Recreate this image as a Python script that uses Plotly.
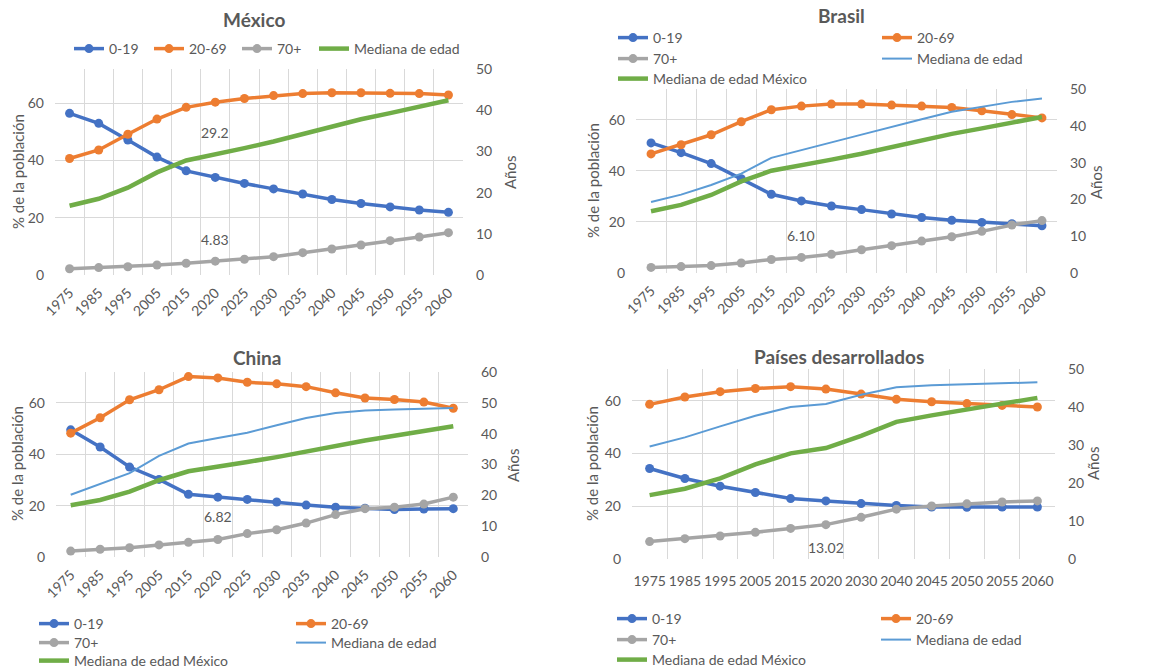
import plotly.graph_objects as go

W, H = 1151, 668

# ---------------- data ----------------
years = ["1975", "1985", "1995", "2005", "2015", "2020", "2025", "2030",
         "2035", "2040", "2045", "2050", "2055", "2060"]
years_dev = ["1975", "1985", "1995", "2005", "2015", "2020", "2030",
             "2040", "2045", "2050", "2055", "2060"]

mex_0_19 = [56.5, 53.0, 47.2, 41.2, 36.4, 34.1, 32.0, 30.1, 28.3, 26.4, 25.0, 23.8, 22.7, 21.9]
mex_20_69 = [40.7, 43.7, 49.2, 54.5, 58.6, 60.4, 61.7, 62.7, 63.4, 63.7, 63.7, 63.5, 63.4, 62.9]
mex_70 = [2.2, 2.6, 2.9, 3.5, 4.1, 4.83, 5.5, 6.4, 7.8, 9.1, 10.5, 12.0, 13.3, 14.8]
mex_median = [16.8, 18.5, 21.2, 24.9, 27.8, 29.2, 30.8, 32.4, 34.2, 36.1, 37.8, 39.3, 40.9, 42.4]

bra_0_19 = [50.9, 47.1, 42.8, 36.9, 30.8, 28.2, 26.2, 24.8, 23.1, 21.7, 20.6, 19.8, 19.3, 18.5]
bra_20_69 = [46.6, 50.2, 54.1, 59.2, 63.9, 65.3, 66.1, 66.1, 65.7, 65.3, 64.8, 63.5, 62.0, 60.7]
bra_70 = [2.2, 2.5, 2.9, 3.9, 5.3, 6.10, 7.3, 9.1, 10.7, 12.5, 14.2, 16.3, 18.8, 20.5]
bra_median = [19.3, 21.3, 23.9, 27.0, 31.3, 33.3, 35.5, 37.6, 39.8, 41.8, 43.8, 45.1, 46.5, 47.4]

chn_0_19 = [49.5, 42.8, 35.0, 30.2, 24.4, 23.3, 22.4, 21.4, 20.2, 19.4, 19.0, 18.5, 18.7, 18.8]
chn_20_69 = [48.2, 54.2, 61.2, 65.1, 70.2, 69.7, 68.0, 67.4, 66.3, 63.9, 61.9, 61.3, 60.3, 57.9]
chn_70 = [2.3, 3.0, 3.6, 4.7, 5.7, 6.82, 9.1, 10.6, 13.2, 16.5, 18.8, 19.4, 20.6, 23.3]
chn_median = [20.2, 23.6, 27.2, 32.8, 36.8, 38.6, 40.3, 42.7, 45.1, 46.7, 47.5, 47.8, 48.1, 48.3]

dev_0_19 = [34.3, 30.5, 27.6, 25.2, 22.9, 22.0, 21.0, 20.3, 19.7, 19.6, 19.7, 19.7]
dev_20_69 = [58.6, 61.4, 63.4, 64.6, 65.3, 64.4, 62.5, 60.5, 59.6, 58.9, 58.2, 57.6]
dev_70 = [6.6, 7.7, 8.7, 10.1, 11.6, 13.02, 15.8, 18.9, 20.1, 20.9, 21.6, 22.0]
dev_median = [29.6, 32.0, 34.9, 37.7, 40.0, 40.8, 43.2, 45.2, 45.7, 46.0, 46.3, 46.5]
dev_mex_median = [16.8, 18.5, 21.2, 24.9, 27.8, 29.2, 32.4, 36.1, 37.8, 39.3, 40.9, 42.4]

label_year = "2020"

# ---------------- style ----------------
FONT = "Lato"
TXT = "#595959"
GRID = "#D9D9D9"
C_BLUE = "#4472C4"
C_ORANGE = "#ED7D31"
C_GRAY = "#A5A5A5"
C_GREEN = "#70AD47"
C_LBLUE = "#5B9BD5"


def px_x(p):
    return p / W


def px_y(p):
    return 1 - p / H


fig = go.Figure()

# legend entry slots: (symbol start px, row centre px)
panels = [
    dict(title="México", x=years, s019=mex_0_19, s2069=mex_20_69, s70=mex_70,
         med=None, mexmed=mex_median, mexname="Mediana de edad",
         dom=(55, 463, 69, 275), rmax=50, angle=-45, ty=19,
         ltitle=(18, 172), rtitle=(510, 172),
         slots=dict(a=(75, 49), b=(155, 49), c=(243, 49), e=(320, 49)),
         lab70="4.83", lab70pos=22, labmed="29.2"),
    dict(title="Brasil", x=years, s019=bra_0_19, s2069=bra_20_69, s70=bra_70,
         med=bra_median, mexmed=mex_median, mexname="Mediana de edad México",
         dom=(636, 1057, 89, 273), rmax=50, angle=-45, ty=16,
         ltitle=(593, 181), rtitle=(1096, 182),
         slots=dict(a=(619, 38), b=(883, 38), c=(619, 59), d=(883, 59), e=(619, 79)),
         lab70="6.10", lab70pos=22),
    dict(title="China", x=years, s019=chn_0_19, s2069=chn_20_69, s70=chn_70,
         med=chn_median, mexmed=mex_median, mexname="Mediana de edad México",
         dom=(56, 468, 372, 557), rmax=60, angle=-45, ty=357,
         ltitle=(17, 464), rtitle=(513, 465),
         slots=dict(a=(40, 624), b=(297, 624), c=(40, 643), d=(297, 643), e=(40, 661)),
         lab70="6.82", lab70pos=23),
    dict(title="Países desarrollados", x=years_dev, s019=dev_0_19, s2069=dev_20_69, s70=dev_70,
         med=dev_median, mexmed=dev_mex_median, mexname="Mediana de edad México",
         dom=(632, 1055, 369, 559), rmax=50, angle=0, ty=356,
         ltitle=(592, 464), rtitle=(1093, 463),
         slots=dict(a=(618, 619), b=(882, 619), c=(618, 640), d=(882, 640), e=(618, 660)),
         lab70="13.02", lab70pos=-23),
]

annotations = []
layout_axes = {}
legends = {}
legend_common = dict(font=dict(family=FONT, size=14, color=TXT), bgcolor="rgba(0,0,0,0)",
                     borderwidth=0, tracegroupgap=0, orientation="v", xanchor="left",
                     yanchor="middle")
leg_counter = [0]


def new_legend(slot):
    leg_counter[0] += 1
    k = leg_counter[0]
    key = "legend" if k == 1 else f"legend{k}"
    sx, sy = slot
    legends[key] = dict(x=px_x(sx - 6), y=px_y(sy), **legend_common)
    return key


for i, p in enumerate(panels):
    n = i + 1
    xa = "x" if n == 1 else f"x{n}"
    yl = "y" if n == 1 else f"y{2 * n - 1}"
    yr = f"y{2 * n}"
    xkey = "xaxis" if n == 1 else f"xaxis{n}"
    ylkey = "yaxis" if n == 1 else f"yaxis{2 * n - 1}"
    yrkey = f"yaxis{2 * n}"
    S = p["slots"]

    def mk(y, name, color, slot, yaxis):
        return go.Scatter(x=p["x"], y=y, name=name, mode="lines+markers",
                          line=dict(color=color, width=3.5),
                          marker=dict(color=color, size=9, symbol="circle"),
                          xaxis=xa, yaxis=yaxis, legend=new_legend(slot),
                          hoverinfo="x+y+name")

    fig.add_trace(mk(p["s019"], "0-19", C_BLUE, S["a"], yl))
    fig.add_trace(mk(p["s2069"], "20-69", C_ORANGE, S["b"], yl))
    fig.add_trace(mk(p["s70"], "70+", C_GRAY, S["c"], yl))
    if p["med"] is not None:
        fig.add_trace(go.Scatter(x=p["x"], y=p["med"], name="Mediana de edad", mode="lines",
                                 line=dict(color=C_LBLUE, width=2),
                                 xaxis=xa, yaxis=yr, legend=new_legend(S["d"])))
    fig.add_trace(go.Scatter(x=p["x"], y=p["mexmed"], name=p["mexname"], mode="lines",
                             line=dict(color=C_GREEN, width=4.5),
                             xaxis=xa, yaxis=yr, legend=new_legend(S["e"])))

    x0, x1, y0, y1 = p["dom"]
    nx = len(p["x"])
    layout_axes[xkey] = dict(
        domain=[px_x(x0), px_x(x1)], anchor=yl, type="category",
        range=[-0.5, nx - 0.5], tickson="boundaries", showgrid=True,
        gridcolor=GRID, gridwidth=1, showline=False, zeroline=False,
        ticks="", tickangle=p["angle"], automargin=False,
        ticklabelstandoff=(12 if p["angle"] == 0 else 6),
        tickfont=dict(family=FONT, size=14, color=TXT))
    layout_axes[ylkey] = dict(
        domain=[px_y(y1), px_y(y0)], anchor=xa, range=[0, 72], tickvals=[0, 20, 40, 60],
        showgrid=True, gridcolor=GRID, gridwidth=1, zeroline=False, showline=False,
        ticks="", ticklabelstandoff=10, automargin=False,
        tickfont=dict(family=FONT, size=14, color=TXT))
    layout_axes[yrkey] = dict(
        overlaying=yl, side="right", anchor=xa, range=[0, p["rmax"]], dtick=10,
        showgrid=False, zeroline=False, showline=False, ticks="", ticklabelstandoff=12,
        automargin=False, tickfont=dict(family=FONT, size=14, color=TXT))

    # panel title
    annotations.append(dict(text=f"<b>{p['title']}</b>", x=px_x((x0 + x1) / 2 - 5),
                            y=px_y(p["ty"]), xref="paper", yref="paper", showarrow=False,
                            xanchor="center", yanchor="middle",
                            font=dict(family=FONT, size=19, color=TXT)))
    # axis titles
    for (tx, ty), txt in ((p["ltitle"], "% de la población"), (p["rtitle"], "Años")):
        annotations.append(dict(text=txt, x=px_x(tx), y=px_y(ty), xref="paper", yref="paper",
                                showarrow=False, textangle=-90, xanchor="center",
                                yanchor="middle", font=dict(family=FONT, size=15, color=TXT)))
    # data labels (category axis -> category index)
    idx = p["x"].index(label_year)
    annotations.append(dict(text=p["lab70"], x=idx, y=p["s70"][idx], xref=xa, yref=yl,
                            showarrow=False, yshift=p["lab70pos"],
                            font=dict(family=FONT, size=14, color=TXT)))
    if "labmed" in p:
        annotations.append(dict(text=p["labmed"], x=idx, y=p["mexmed"][idx], xref=xa,
                                yref=yr, showarrow=False, yshift=22,
                                font=dict(family=FONT, size=14, color=TXT)))

fig.update_layout(
    width=W, height=H, margin=dict(l=0, r=0, t=0, b=0, autoexpand=False),
    paper_bgcolor="white", plot_bgcolor="white",
    font=dict(family=FONT, size=14, color=TXT),
    annotations=annotations, showlegend=True,
    **layout_axes, **legends,
)

fig.write_html(
    "out.html",
    config={"displayModeBar": False},
    post_script=("document.documentElement.style.margin='0';"
                 "document.body.style.margin='0';document.body.style.overflow='hidden';"),
)
